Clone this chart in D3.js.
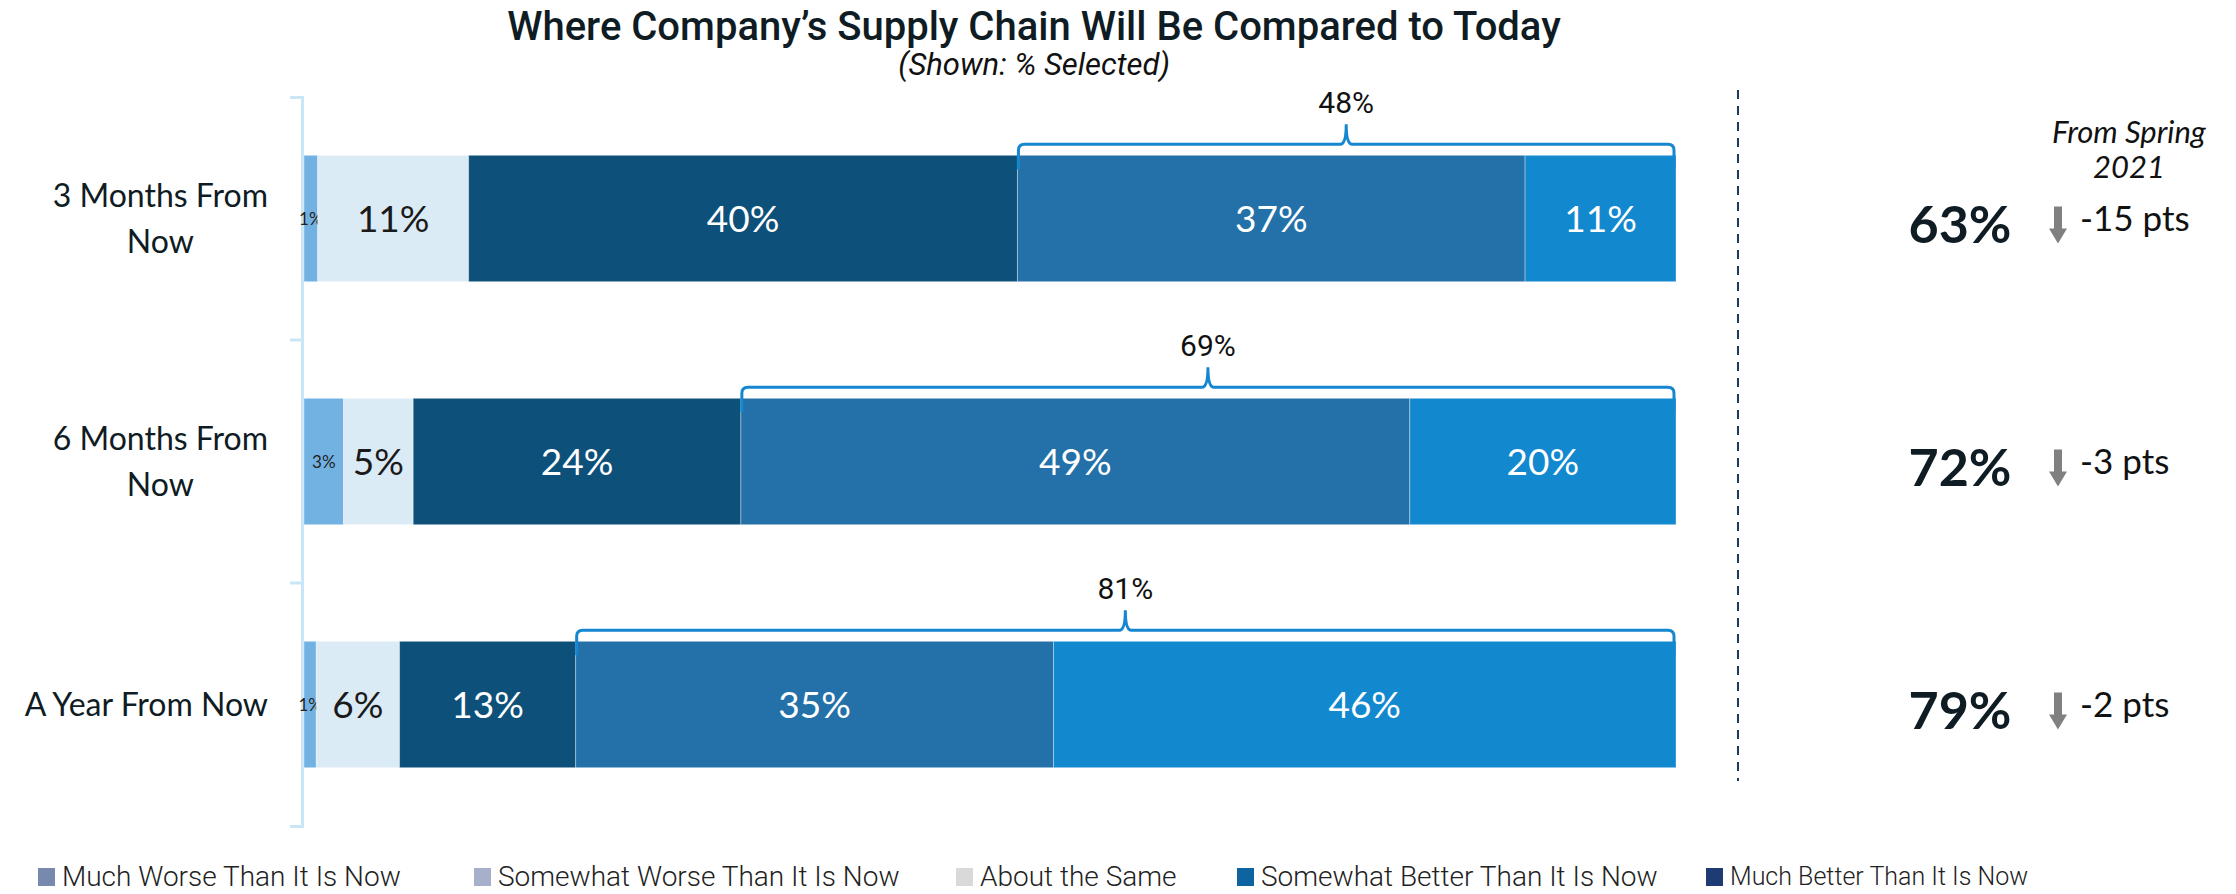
<!DOCTYPE html>
<html>
<head>
<meta charset="utf-8">
<script src="https://cdn.jsdelivr.net/npm/d3@7"></script>
<style>
  body { margin: 0; background: #fff; }
  svg { display: block; }
</style>
</head>
<body>
<div id="wrapper"></div>
<script>

// data
const periods = ["3 Months From Now", "6 Months From Now", "A Year From Now"]
const periodLines = [["3 Months From", "Now"], ["6 Months From", "Now"], ["A Year From Now"]]
const series = ["Much Worse Than It Is Now", "Somewhat Worse Than It Is Now", "About the Same",
  "Somewhat Better Than It Is Now", "Much Better Than It Is Now"]
const muchWorse     = [1, 2.9, 0.9]
const somewhatWorse = [11, 5.1, 6.1]
const aboutSame     = [40, 24.0, 12.9]
const somewhatBetter = [37, 49.0, 35.0]
const muchBetter    = [11, 19.5, 45.6]
const netBetter = [48, 69, 81]
const totals = [63, 72, 79]
const changeFromSpring = [-15, -3, -2]

const barColors = ["#72b2e2", "#dbebf6", "#0d5079", "#2371a8", "#1288cf"]
const labelColors = ["#222", "#1a1a1a", "#fff", "#fff", "#fff"]
const legendColors = ["#7789ad", "#a6b0cb", "#d9d9d9", "#0e64a0", "#1f3b73"]

const rows = periods.map((p, i) => ({
  period: p,
  [series[0]]: muchWorse[i],
  [series[1]]: somewhatWorse[i],
  [series[2]]: aboutSame[i],
  [series[3]]: somewhatBetter[i],
  [series[4]]: muchBetter[i],
}))

const width = 2236
const height = 894

const svg = d3.select("#wrapper")
  .append("svg")
    .attr("width", width)
    .attr("height", height)

// title
svg.append("text")
    .attr("x", 1034)
    .attr("y", 40)
    .attr("text-anchor", "middle")
    .style("font-family", "Roboto")
    .style("font-weight", 500)
    .style("font-size", "40px")
    .attr("fill", "#0f1c24")
    .text("Where Company\u2019s Supply Chain Will Be Compared to Today")

svg.append("text")
    .attr("x", 1034)
    .attr("y", 75)
    .attr("text-anchor", "middle")
    .style("font-family", "Roboto")
    .style("font-style", "italic")
    .style("font-size", "31px")
    .attr("fill", "#111")
    .text("(Shown: % Selected)")


// scales
const xScale = d3.scaleLinear()
  .domain([0, 1])
  .range([304, 1676])

const yScale = d3.scaleBand()
  .domain(periods)
  .range([97, 826])
  .paddingInner(0.48)
  .paddingOuter(0.24)

const stack = d3.stack()
  .keys(series)
  .offset(d3.stackOffsetExpand)
const stacked = stack(rows)

// axis line
const axis = svg.append("g")
    .attr("transform", "translate(302,0)")
    .call(d3.axisLeft(yScale).tickSizeInner(0).tickSizeOuter(12).tickFormat(""))
axis.select(".domain")
    .attr("stroke", "#c8e6f5")
    .attr("stroke-width", 3)
axis.selectAll(".tick line").remove()

const step = yScale.step()
axis.selectAll(".boundary")
  .data(periods.slice(0, -1))
  .join("line")
    .attr("class", "boundary")
    .attr("x1", -12)
    .attr("x2", 0)
    .attr("y1", d => yScale(d) + yScale.bandwidth() + (step - yScale.bandwidth()) / 2)
    .attr("y2", d => yScale(d) + yScale.bandwidth() + (step - yScale.bandwidth()) / 2)
    .attr("stroke", "#c8e6f5")
    .attr("stroke-width", 3)

// bars
const layers = svg.append("g")
  .selectAll("g")
  .data(stacked)
  .join("g")
    .attr("fill", (d, i) => barColors[i])

layers.selectAll("rect")
  .data(d => d)
  .join("rect")
    .attr("x", d => xScale(d[0]))
    .attr("y", d => yScale(d.data.period))
    .attr("width", d => xScale(d[1]) - xScale(d[0]))
    .attr("height", yScale.bandwidth())
    .attr("stroke", "rgba(255,255,255,0.35)")
    .attr("stroke-width", 1)

// segment labels
layers.each(function(layer, li) {
  d3.select(this).selectAll("text")
    .data(layer)
    .join("text")
      .attr("x", d => (xScale(d[0]) + xScale(d[1])) / 2)
      .attr("y", d => yScale(d.data.period) + yScale.bandwidth() / 2)
      .attr("dy", "0.36em")
      .attr("text-anchor", "middle")
      .style("font-family", "Lato")
      .style("font-size", d => d.data[layer.key] < 4 ? "17px" : "37px")
      .attr("fill", labelColors[li])
      .text(d => `${Math.round(d.data[layer.key])}%`)
})

// brackets over the "better" share
const bracket = svg.append("g")
const better = stacked[3]
const last = stacked[4]
periods.forEach((p, i) => {
  const x0 = xScale(better[i][0]) + 1
  const x1 = xScale(last[i][1]) - 2
  const yb = yScale(p) + 14
  const yl = yScale(p) - 11
  const xm = (x0 + x1) / 2
  const r = 6
  const h = 20
  const path = d3.path()
  path.moveTo(x0, yb)
  path.lineTo(x0, yl + r)
  path.quadraticCurveTo(x0, yl, x0 + r, yl)
  path.lineTo(xm - r, yl)
  path.quadraticCurveTo(xm, yl, xm, yl - h)
  path.quadraticCurveTo(xm, yl, xm + r, yl)
  path.lineTo(x1 - r, yl)
  path.quadraticCurveTo(x1, yl, x1, yl + r)
  path.lineTo(x1, yb)
  bracket.append("path")
      .attr("d", path.toString())
      .attr("fill", "none")
      .attr("stroke", "#1487d0")
      .attr("stroke-width", 3)
  bracket.append("text")
      .attr("x", xm)
      .attr("y", yl - 31)
      .attr("text-anchor", "middle")
      .style("font-family", "Roboto")
      .style("font-size", "30px")
      .attr("fill", "#111")
      .text(`${netBetter[i]}%`)
})

// row labels
const labelRight = 268
const rowLabels = svg.append("g")
  .selectAll("text")
  .data(periods)
  .join("text")
    .style("font-family", "Lato")
    .style("font-size", "32px")
    .attr("fill", "#0f1c24")
    .attr("text-anchor", "middle")
rowLabels.each(function(p, i) {
  const t = d3.select(this)
  const lines = periodLines[i]
  const cy = yScale(p) + yScale.bandwidth() / 2
  lines.forEach((line, j) => {
    t.append("tspan")
      .attr("y", cy + (j - (lines.length - 1) / 2) * 46)
      .attr("dy", "0.36em")
      .text(line)
  })
  let maxW = 0
  t.selectAll("tspan").each(function() {
    maxW = Math.max(maxW, this.getComputedTextLength())
  })
  t.selectAll("tspan").attr("x", labelRight - maxW / 2)
})

// divider
svg.append("line")
    .attr("x1", 1738)
    .attr("x2", 1738)
    .attr("y1", 90)
    .attr("y2", 781)
    .attr("stroke", "#1f3a5f")
    .attr("stroke-width", 2)
    .attr("stroke-dasharray", "9 7")

// right side summary
const header = svg.append("text")
    .attr("text-anchor", "middle")
    .style("font-family", "Lato")
    .style("font-style", "italic")
    .style("font-size", "31px")
    .attr("fill", "#111")
header.append("tspan").attr("x", 2129).attr("y", 143).text("From Spring")
header.append("tspan").attr("x", 2129).attr("y", 178).text("2021")

const summary = svg.append("g")
  .selectAll("g")
  .data(periods)
  .join("g")
    .attr("transform", d => `translate(0, ${yScale(d) + yScale.bandwidth() / 2})`)

summary.append("text")
    .attr("x", 1960)
    .attr("y", 24)
    .attr("text-anchor", "middle")
    .style("font-family", "Lato")
    .style("font-weight", 700)
    .style("font-size", "52px")
    .attr("fill", "#0f1c24")
    .text((d, i) => `${totals[i]}%`)

summary.append("path")
    .attr("d", "M2054,-12 L2062,-12 L2062,10 L2067,10 L2058,25 L2049,10 L2054,10 Z")
    .attr("fill", "#808080")

summary.append("text")
    .attr("x", 2080)
    .attr("y", 12)
    .style("font-family", "Lato")
    .style("font-size", "35px")
    .attr("fill", "#111")
    .text((d, i) => `${changeFromSpring[i]} pts`)

// legend
const legendX = [38, 474, 956, 1237, 1706]
const legend = svg.append("g")
  .selectAll("g")
  .data(series)
  .join("g")
    .attr("transform", (d, i) => `translate(${legendX[i]}, 876)`)

legend.append("rect")
    .attr("x", 0)
    .attr("y", -8)
    .attr("width", 17)
    .attr("height", 18)
    .attr("fill", (d, i) => legendColors[i])

legend.append("text")
    .attr("x", 24)
    .attr("dy", "0.35em")
    .style("font-family", "Roboto")
    .style("font-weight", 300)
    .style("font-size", (d, i) => i === 4 ? "25px" : "28px")
    .attr("fill", "#222")
    .text(d => d)

</script>
</body>
</html>
